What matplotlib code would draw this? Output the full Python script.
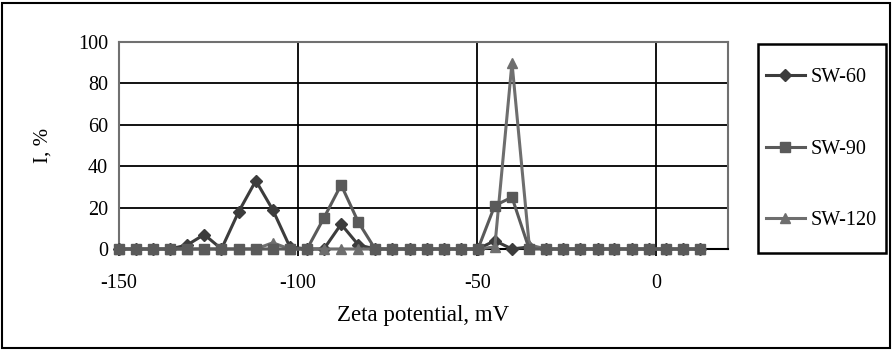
import matplotlib
matplotlib.use("Agg")
import matplotlib.pyplot as plt
from matplotlib.patches import Rectangle

plt.rcParams['font.family'] = ['Liberation Serif', 'DejaVu Serif']
plt.rcParams['font.size'] = 14.5
plt.rcParams['axes.unicode_minus'] = False

# zeta potential bins, mV
zeta = [-150, -145.2, -140.5, -135.7, -130.9, -126.2, -121.4, -116.6, -111.8,
        -107.1, -102.3, -97.5, -92.8, -88.0, -83.2, -78.5, -73.7, -68.9,
        -64.1, -59.4, -54.6, -49.8, -45.1, -40.3, -35.5, -30.8, -26.0,
        -21.2, -16.4, -11.7, -6.9, -2.1, 2.6, 7.4, 12.2]

sw60 = [0, 0, 0, 0, 2, 7, 0, 18, 33, 19, 1, 0, 0, 12, 2, 0, 0, 0,
        0, 0, 0, 0, 4, 0, 1, 0, 0, 0, 0, 0, 0, 0, 0, 0, 0]
sw90 = [0, 0, 0, 0, 0, 0, 0, 0, 0, 0, 0, 0, 15, 31, 13, 0, 0, 0,
        0, 0, 0, 0, 21, 25, 0, 0, 0, 0, 0, 0, 0, 0, 0, 0, 0]
sw120 = [0, 0, 0, 0, 0, 0, 0, 0, 0, 3, 0, 0, 0, 0, 0, 0, 0, 0,
         0, 0, 0, 0, 1, 90, 2, 0, 0, 0, 0, 0, 0, 0, 0, 0, 0]

labels = ['SW-60', 'SW-90', 'SW-120']

W, H = 893, 351
fig = plt.figure(figsize=(W / 100, H / 100), dpi=100)
ax = fig.add_axes([119 / W, (H - 249) / H, 609 / W, 207 / H])

l1, = ax.plot(zeta, sw60, color='#3c3c3c', lw=2.2, marker='D', ms=6.3, zorder=3, clip_on=False)
l3, = ax.plot(zeta, sw120, color='#6e6e6e', lw=2.2, marker='^', ms=7.3, zorder=4, clip_on=False)
l2, = ax.plot(zeta, sw90, color='#5a5a5a', lw=2.2, marker='s', ms=6.8, zorder=5, clip_on=False)

ax.set_xlim(-150, 20)
ax.set_ylim(0, 100)
ax.set_xticks([-150, -100, -50, 0])
ax.set_yticks([0, 20, 40, 60, 80, 100])
ax.grid(True, color='black', lw=1.3)
ax.set_axisbelow(True)
for s in ['left', 'top', 'right']:
    ax.spines[s].set_color('#707070')
    ax.spines[s].set_linewidth(1.5)
ax.spines['bottom'].set_color('black')
ax.spines['bottom'].set_linewidth(1.5)
ax.tick_params(axis='x', length=5, width=1.3, pad=13)
ax.tick_params(axis='y', length=0, pad=8)

ax.set_xlabel('Zeta potential, mV', fontsize=16.5, labelpad=9)
ax.set_ylabel('I, %', fontsize=15, labelpad=18)

# legend box
fig.add_artist(Rectangle((758 / W, (H - 253) / H), 128 / W, 209 / H,
                         transform=fig.transFigure, fill=False, ec='black', lw=1.8))
fig.legend([l1, l2, l3], labels, loc='center left', frameon=False,
           bbox_to_anchor=(765.5 / W, (H - 149) / H), handlelength=1.95,
           handletextpad=0.28, labelspacing=2.62, borderpad=0, borderaxespad=0)

# outer chart border
fig.add_artist(Rectangle((2 / W, 3 / H), 888 / W, 345 / H,
                         transform=fig.transFigure, fill=False, ec='black', lw=1.5))

fig.savefig('out.png', dpi=100)
